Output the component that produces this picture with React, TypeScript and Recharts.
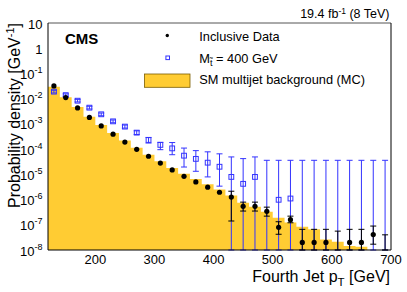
import React from 'react';
import { ComposedChart, Area, Scatter, XAxis, YAxis, ErrorBar } from 'recharts';

// ---- data ----
const binEdges = [120, 140, 160, 180, 200, 220, 240, 260, 280, 300, 320, 340, 360, 380, 400, 420, 440, 460, 480, 500, 520, 540, 560, 580, 600, 620, 640, 660, 680, 700];
const binCenters = [130, 150, 170, 190, 210, 230, 250, 270, 290, 310, 330, 350, 370, 390, 410, 430, 450, 470, 490, 510, 530, 550, 570, 590, 610, 630, 650, 670, 690];

const bkgMC = [0.030, 0.0115, 0.0047, 0.0019, 9.1e-4, 4.4e-4, 2.2e-4, 1.12e-4, 6.0e-5, 3.3e-5, 1.8e-5, 1.05e-5, 6.6e-6, 4.0e-6, 2.5e-6, 1.45e-6, 7.4e-7, 5.2e-7, 3.3e-7, 1.9e-7, 1.24e-7, 8.3e-8, 6.6e-8, 2.6e-8, 2.1e-8, 1.45e-8, 1.36e-8, null, null];

const dataIncl = [0.032, 0.011, 0.0043, 0.0018, 8.3e-4, 3.9e-4, 1.9e-4, 9.8e-5, 5.2e-5, 2.8e-5, 1.5e-5, 8.3e-6, 5.0e-6, 3.1e-6, 1.95e-6, 1.25e-6, 5.4e-7, 5.4e-7, 3.4e-7, 7.9e-8, 1.6e-7, 2.0e-8, 2.0e-8, 2.0e-8, null, 2.0e-8, 2.0e-8, 4.1e-8, null];
const dataHi = [null, null, null, null, null, null, null, null, null, null, null, null, null, null, null, 2.14e-6, 7.9e-7, 7.9e-7, 5.0e-7, 1.32e-7, 2.2e-7, 6.6e-8, 6.6e-8, 6.6e-8, 5.6e-8, 6.6e-8, 6.6e-8, 8.9e-8, 4.0e-8];
const dataLo = [null, null, null, null, null, null, null, null, null, null, null, null, null, null, null, 1.41e-7, 3.5e-7, 3.5e-7, 2.2e-7, 4.2e-8, 1.2e-7, 0, 0, 0, 0, 0, 0, 1.7e-8, 0];

const sigVals = [0.019, 0.0138, 0.0083, 0.0044, 0.0024, 0.00126, 7.8e-4, 4.5e-4, 2.3e-4, 1.47e-4, 1.07e-4, 5.5e-5, 4.1e-5, 2.9e-5, 2.0e-5, 7.9e-6, 4.2e-6, 7.9e-6, null, 9.8e-7, 1.1e-6, null, null, null, null, null, null, null, null];
const sigHi = [0.0215, 0.0155, 0.0094, 0.0050, 0.0027, 0.00143, 9.0e-4, 5.3e-4, 2.9e-4, 1.86e-4, 1.82e-4, 1.10e-4, 8.7e-5, 7.8e-5, 6.5e-5, 4.9e-5, 4.2e-5, 4.9e-5, 3.6e-5, 3.6e-5, 3.6e-5, 3.6e-5, 3.6e-5, 3.6e-5, 3.6e-5, 3.6e-5, 3.6e-5, 3.6e-5, 3.6e-5];
const sigLo = [0.0168, 0.0123, 0.0074, 0.0039, 0.0021, 0.00111, 6.8e-4, 3.8e-4, 1.74e-4, 9.5e-5, 6.0e-5, 1.95e-5, 1.32e-5, 7.9e-6, 3.4e-6, 0, 0, 0, 0, 0, 0, 0, 0, 0, 0, 0, 0, 0, 0];

const xMajorTicks = [200, 300, 400, 500, 600, 700];
const xMinorTicks = [140, 160, 180, 200, 220, 240, 260, 280, 300, 320, 340, 360, 380, 400, 420, 440, 460, 480, 500, 520, 540, 560, 580, 600, 620, 640, 660, 680];
const yDecades = [1e-8, 1e-7, 1e-6, 1e-5, 1e-4, 1e-3, 1e-2, 1e-1, 1, 10];
const yMinorMult = [2, 3, 4, 5, 6, 7, 8, 9];

const FLOOR = 1e-8;
const X_DOMAIN: [number, number] = [120, 700];
const Y_DOMAIN: [number, number] = [1e-8, 10];

const FONT = '"Liberation Sans", Arial, Helvetica, sans-serif';
const ORANGE = '#FFCC33';
const BLUE = '#3333ff';

// ---- derived tables ----
const histData = binEdges.map((x, i) => {
  const v = bkgMC[Math.min(i, bkgMC.length - 1)];
  return { x, y: v == null ? FLOOR : Math.max(v, FLOOR) };
});

function buildPoints(vals: (number | null)[], his: (number | null)[], los: (number | null)[]) {
  return binCenters.map((x, i) => {
    const v = vals[i];
    const empty = v == null;
    const y = empty ? FLOOR : (v as number);
    const hi = his[i];
    const lo = los[i];
    let err: [number, number] | undefined = undefined;
    if (hi != null) {
      const loB = lo == null || lo === 0 ? FLOOR : lo;
      err = [Math.max(y - loB, 0), Math.max(hi - y, 0)];
    }
    return { x, y, empty, err };
  });
}

const dataPoints = buildPoints(dataIncl, dataHi, dataLo);
const sigPoints = buildPoints(sigVals, sigHi, sigLo);

const yMinorTicks: number[] = [];
yDecades.slice(0, -1).forEach((d) => yMinorMult.forEach((m) => yMinorTicks.push(m * d)));

// ---- shapes / ticks ----
const DataDot = (p: any) =>
  p.payload && p.payload.empty ? <g /> : <circle cx={p.cx} cy={p.cy} r={2.6} fill="#000" />;
const SigSquare = (p: any) =>
  p.payload && p.payload.empty ? (
    <g />
  ) : (
    <rect x={p.cx - 2.4} y={p.cy - 2.4} width={4.8} height={4.8} fill="none" stroke={BLUE} strokeWidth={1} />
  );

const YTick = (p: any) => {
  const v = p.payload.value;
  const e = Math.round(Math.log10(v));
  if (e === 0 || e === 1) {
    return (
      <text x={p.x} y={p.y + 5.5} textAnchor="end" fontFamily={FONT} fontSize={13} fill="#000">
        {e === 0 ? '1' : '10'}
      </text>
    );
  }
  return (
    <text x={p.x} y={p.y + 5.5} textAnchor="end" fontFamily={FONT} fontSize={13} fill="#000">
      10
      <tspan dy={-6} fontSize={9}>
        {String(e)}
      </tspan>
    </text>
  );
};

const XTick = (p: any) => (
  <text x={p.x} y={p.y + 14} textAnchor="middle" fontFamily={FONT} fontSize={13} fill="#000">
    {p.payload.value}
  </text>
);

export default function App() {
  return (
    <div style={{ position: 'absolute', left: 0, top: 0, width: 407, height: 292, background: '#fff' }}>
      <ComposedChart width={407} height={292} margin={{ top: 23, right: 16, bottom: 0, left: 0 }}>
        <XAxis
          xAxisId="x"
          dataKey="x"
          type="number"
          domain={X_DOMAIN}
          allowDataOverflow
          ticks={xMajorTicks}
          interval={0}
          height={42}
          tickSize={0}
          tickMargin={0}
          tickLine={false}
          axisLine={{ stroke: '#000', strokeWidth: 1 }}
          tick={<XTick />}
        />
        <XAxis
          xAxisId="xMaj"
          type="number"
          domain={X_DOMAIN}
          allowDataOverflow
          ticks={xMajorTicks}
          interval={0}
          mirror
          tick={false}
          tickSize={7}
          axisLine={false}
          tickLine={{ stroke: '#000', strokeWidth: 1 }}
        />
        <XAxis
          xAxisId="xMin"
          type="number"
          domain={X_DOMAIN}
          allowDataOverflow
          ticks={xMinorTicks}
          interval={0}
          mirror
          tick={false}
          tickSize={3.5}
          axisLine={false}
          tickLine={{ stroke: '#000', strokeWidth: 1 }}
        />
        <XAxis
          xAxisId="top"
          orientation="top"
          type="number"
          domain={X_DOMAIN}
          allowDataOverflow
          mirror
          tick={false}
          tickLine={false}
          axisLine={{ stroke: '#555', strokeWidth: 1 }}
        />
        <YAxis
          yAxisId="y"
          dataKey="y"
          type="number"
          scale="log"
          domain={Y_DOMAIN}
          allowDataOverflow
          ticks={yDecades}
          interval={0}
          width={48}
          tickSize={0}
          tickMargin={5.5}
          tickLine={false}
          axisLine={{ stroke: '#000', strokeWidth: 1 }}
          tick={<YTick />}
        />
        <YAxis
          yAxisId="yMaj"
          type="number"
          scale="log"
          domain={Y_DOMAIN}
          allowDataOverflow
          ticks={yDecades}
          interval={0}
          mirror
          tick={false}
          tickSize={8}
          axisLine={false}
          tickLine={{ stroke: '#000', strokeWidth: 1 }}
        />
        <YAxis
          yAxisId="yMin"
          type="number"
          scale="log"
          domain={Y_DOMAIN}
          allowDataOverflow
          ticks={yMinorTicks}
          interval={0}
          mirror
          tick={false}
          tickSize={4}
          axisLine={false}
          tickLine={{ stroke: '#000', strokeWidth: 1 }}
        />
        <YAxis
          yAxisId="right"
          orientation="right"
          type="number"
          scale="log"
          domain={Y_DOMAIN}
          allowDataOverflow
          mirror
          tick={false}
          tickLine={false}
          axisLine={{ stroke: '#000', strokeWidth: 1 }}
        />

        <Area
          xAxisId="x"
          yAxisId="y"
          data={histData}
          dataKey="y"
          type="stepAfter"
          baseValue={FLOOR}
          fill={ORANGE}
          fillOpacity={1}
          stroke="none"
          dot={false}
          activeDot={false}
          isAnimationActive={false}
          name="SM multijet background (MC)"
        />
        <Scatter
          xAxisId="x"
          yAxisId="y"
          data={sigPoints}
          dataKey="y"
          shape={SigSquare}
          isAnimationActive={false}
          name="signal"
        >
          <ErrorBar dataKey="err" direction="y" width={3} stroke={BLUE} strokeWidth={1} isAnimationActive={false} />
        </Scatter>
        <Scatter
          xAxisId="x"
          yAxisId="y"
          data={dataPoints}
          dataKey="y"
          shape={DataDot}
          isAnimationActive={false}
          name="Inclusive Data"
        >
          <ErrorBar dataKey="err" direction="y" width={3} stroke="#000" strokeWidth={1} isAnimationActive={false} />
        </Scatter>
      </ComposedChart>

      <svg
        width={407}
        height={292}
        style={{ position: 'absolute', left: 0, top: 0, pointerEvents: 'none' }}
        fontFamily={FONT}
      >
        <text x={65} y={43.5} fontSize={15} fontWeight="bold" fill="#000">
          CMS
        </text>
        <text x={389.5} y={18} fontSize={12.5} textAnchor="end" fill="#000">
          19.4 fb
          <tspan dy={-4.5} fontSize={8.5}>
            -1
          </tspan>
          <tspan dy={4.5} fontSize={12.5}>
            {' (8 TeV)'}
          </tspan>
        </text>
        <text transform="translate(19.5,23) rotate(-90)" x={0} y={0} fontSize={16} textAnchor="end" fill="#000">
          Probability density [GeV
          <tspan dy={-6} fontSize={11}>
            -1
          </tspan>
          <tspan dy={6} fontSize={16}>
            ]
          </tspan>
        </text>
        <text x={390} y={282} fontSize={16} textAnchor="end" fill="#000">
          Fourth Jet p
          <tspan dy={4} fontSize={11.5}>
            T
          </tspan>
          <tspan dy={-4} fontSize={16}>
            {' [GeV]'}
          </tspan>
        </text>

        {/* legend */}
        <circle cx={167.3} cy={35.5} r={1.7} fill="#000" />
        <text x={199.3} y={40.7} fontSize={12.8} fill="#000">
          Inclusive Data
        </text>
        <rect x={165.9} y={56} width={3.6} height={3.6} fill="none" stroke={BLUE} strokeWidth={1} />
        <text x={199.3} y={62.5} fontSize={12.8} fill="#000">
          M
          <tspan dy={3} fontSize={9}>
            {'t\u0303'}
          </tspan>
          <tspan dy={-3} fontSize={12.8}>
            {' = 400 GeV'}
          </tspan>
        </text>
        <rect x={144.5} y={74} width={45.5} height={13.3} fill={ORANGE} stroke="#7a5c00" strokeWidth={0.8} />
        <text x={199.3} y={84} fontSize={12.8} fill="#000">
          SM multijet background (MC)
        </text>
      </svg>
    </div>
  );
}
